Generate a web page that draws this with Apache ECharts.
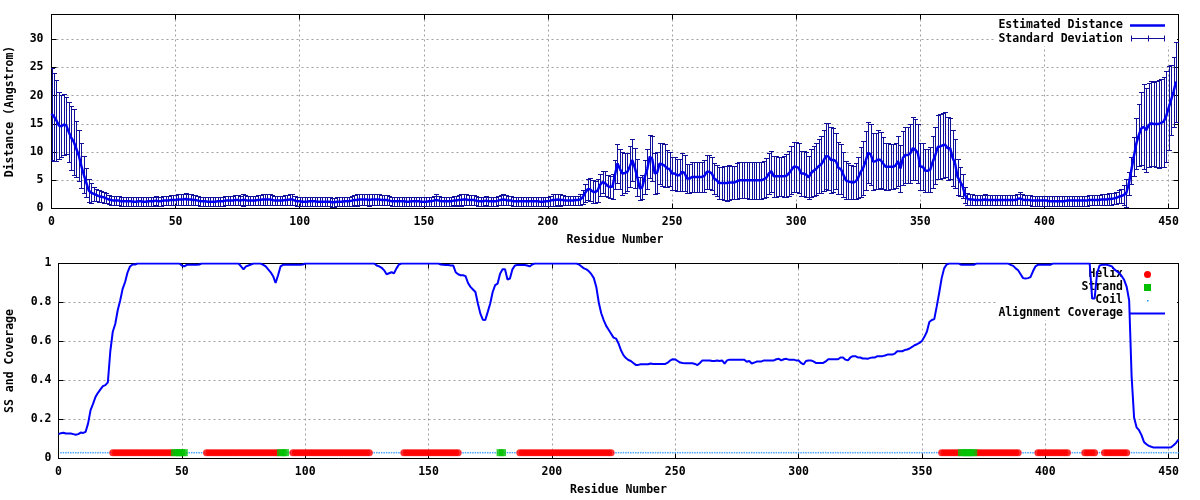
<!DOCTYPE html>
<html><head><meta charset="utf-8">
<script src="https://cdn.jsdelivr.net/npm/echarts@6/dist/echarts.min.js"></script>
<style>html,body{margin:0;padding:0;background:#fff}#c{width:1200px;height:500px}</style>
</head><body><div id="c"></div>
<script>
// ---------------- DATA ----------------
// Estimated distance (Angstrom) per residue, residues 0..453
const distanceMean = [
16.8,16.3,15.6,14.7,14.6,14.9,14.7,13.5,12.5,11.8,
10.6,9.4,7.6,6.0,4.6,3.2,2.8,2.6,2.4,2.2,
2.1,2.0,1.8,1.6,1.5,1.4,1.4,1.4,1.3,1.3,
1.3,1.3,1.3,1.2,1.2,1.3,1.3,1.2,1.2,1.3,
1.3,1.3,1.4,1.3,1.3,1.4,1.4,1.4,1.5,1.5,
1.5,1.6,1.6,1.6,1.7,1.6,1.6,1.5,1.5,1.4,
1.3,1.3,1.3,1.2,1.2,1.2,1.2,1.3,1.3,1.3,
1.4,1.4,1.4,1.4,1.5,1.5,1.4,1.5,1.5,1.4,
1.4,1.4,1.4,1.5,1.5,1.6,1.6,1.6,1.6,1.5,
1.4,1.4,1.4,1.4,1.5,1.5,1.6,1.6,1.4,1.3,
1.3,1.2,1.2,1.2,1.3,1.3,1.3,1.2,1.2,1.2,
1.2,1.2,1.2,1.1,1.1,1.2,1.2,1.2,1.3,1.3,
1.3,1.4,1.5,1.5,1.6,1.6,1.6,1.6,1.5,1.6,
1.6,1.6,1.6,1.5,1.5,1.5,1.4,1.3,1.3,1.3,
1.3,1.3,1.3,1.2,1.2,1.3,1.3,1.3,1.3,1.2,
1.2,1.2,1.3,1.3,1.4,1.5,1.4,1.3,1.3,1.3,
1.3,1.3,1.4,1.4,1.5,1.5,1.6,1.6,1.5,1.5,
1.5,1.4,1.3,1.3,1.3,1.4,1.3,1.3,1.3,1.3,
1.4,1.5,1.6,1.5,1.4,1.4,1.3,1.3,1.3,1.3,
1.3,1.3,1.3,1.3,1.3,1.3,1.3,1.2,1.2,1.3,
1.3,1.4,1.5,1.5,1.6,1.5,1.5,1.4,1.4,1.4,
1.4,1.5,1.5,1.6,2.0,2.8,3.4,3.4,3.0,2.9,
3.2,4.2,4.7,4.5,4.0,3.8,3.9,6.0,8.0,7.0,
6.2,6.3,6.5,7.5,8.6,7.2,5.5,3.5,3.8,5.6,
7.0,9.2,8.8,6.2,6.4,8.0,7.8,7.6,7.1,7.0,
6.2,6.2,5.9,5.9,6.5,6.3,5.3,5.3,5.6,5.6,
5.6,5.6,5.6,5.8,6.5,6.5,6.2,5.3,5.0,4.5,
4.5,4.5,4.5,4.6,4.6,4.6,4.8,5.0,5.0,5.0,
5.0,5.0,5.0,5.0,5.0,5.0,5.0,5.2,5.5,6.2,
6.6,5.7,5.7,5.7,5.7,5.7,5.8,6.2,6.8,7.4,
7.4,7.2,6.2,6.2,6.0,5.5,6.3,6.7,7.0,7.5,
7.8,8.5,9.3,9.2,8.6,8.6,8.4,7.2,7.0,6.0,
5.0,4.8,4.7,4.6,4.8,5.5,6.5,7.2,8.5,9.9,
9.6,8.3,8.4,8.7,8.6,8.0,7.4,7.4,7.4,7.4,
7.6,8.4,7.1,9.0,9.5,9.5,9.8,10.7,10.4,9.8,
7.4,7.4,6.7,6.7,6.9,8.3,9.4,10.9,11.0,11.2,
11.3,10.7,10.7,9.0,8.0,5.6,4.8,4.0,2.4,1.7,
1.6,1.6,1.5,1.5,1.5,1.5,1.6,1.5,1.5,1.5,
1.5,1.5,1.5,1.5,1.5,1.5,1.5,1.5,1.5,1.6,
1.8,1.6,1.5,1.5,1.5,1.4,1.4,1.4,1.4,1.4,
1.4,1.4,1.3,1.3,1.3,1.3,1.3,1.3,1.3,1.4,
1.4,1.4,1.4,1.4,1.4,1.4,1.4,1.4,1.5,1.5,
1.5,1.5,1.5,1.6,1.6,1.6,1.7,1.7,1.8,1.9,
2.1,2.2,2.4,2.8,4.4,6.8,9.2,11.5,13.0,14.2,
14.5,13.9,14.8,15.1,15.0,15.0,15.0,15.2,15.4,16.3,
17.8,19.2,20.7,22.5
];
// Standard deviation per residue, residues 0..453
const distanceStd = [
8.2,7.8,7.2,6.0,5.5,5.4,5.0,5.3,5.6,5.9,
5.0,4.5,4.0,3.3,2.6,2.0,1.8,1.3,1.1,1.0,
1.0,1.0,0.9,0.8,0.8,0.8,0.8,0.8,0.8,0.8,
0.8,0.8,0.8,0.8,0.8,0.8,0.8,0.8,0.8,0.8,
0.8,0.8,0.8,0.8,0.8,0.8,0.8,0.8,0.9,0.9,
0.9,1.0,1.0,1.0,1.0,1.0,1.0,0.9,0.9,0.8,
0.8,0.8,0.8,0.8,0.8,0.8,0.8,0.8,0.8,0.8,
0.8,0.8,0.8,0.8,0.9,0.9,0.8,1.0,0.9,0.8,
0.8,0.8,0.8,0.9,0.9,1.0,1.0,1.0,1.0,0.9,
0.8,0.8,0.8,0.8,0.9,0.9,1.0,1.0,0.8,0.8,
0.8,0.8,0.8,0.8,0.8,0.8,0.8,0.8,0.8,0.8,
0.8,0.8,0.8,0.8,0.8,0.8,0.8,0.8,0.8,0.8,
0.8,0.9,0.9,1.0,1.0,1.0,1.0,1.0,1.0,1.0,
1.0,1.0,1.0,0.9,0.9,0.9,0.8,0.8,0.8,0.8,
0.8,0.8,0.8,0.8,0.8,0.8,0.8,0.8,0.8,0.8,
0.8,0.8,0.8,0.8,0.9,1.0,0.9,0.8,0.8,0.8,
0.8,0.8,0.8,0.9,0.9,1.0,1.0,1.0,0.9,0.9,
0.9,0.8,0.8,0.8,0.8,0.8,0.8,0.8,0.8,0.8,
0.8,0.9,1.0,0.9,0.8,0.8,0.8,0.8,0.8,0.8,
0.8,0.8,0.8,0.8,0.8,0.8,0.8,0.8,0.8,0.8,
0.8,0.9,1.0,1.0,1.0,1.0,0.9,0.8,0.8,0.8,
0.8,0.8,0.8,0.9,1.2,1.6,1.9,2.0,2.0,2.0,
2.0,2.0,2.0,2.2,2.0,2.0,2.2,2.6,3.5,3.6,
3.8,3.6,3.4,3.6,3.8,3.6,3.2,2.0,2.2,3.0,
3.5,3.8,4.0,3.6,3.6,3.6,3.8,3.8,3.2,3.0,
3.0,3.0,2.8,2.8,3.4,3.2,2.6,2.6,2.6,2.6,
2.6,2.6,2.6,2.8,3.0,3.0,3.0,2.8,2.8,2.9,
2.9,3.0,3.1,3.1,3.0,3.0,3.2,3.2,3.2,3.2,
3.2,3.3,3.3,3.3,3.3,3.3,3.3,3.3,3.4,3.6,
3.6,3.6,3.6,3.4,3.4,3.6,3.8,4.0,4.2,4.4,
4.4,4.4,4.0,4.0,4.0,3.8,4.2,4.4,4.6,4.8,
5.0,5.4,5.8,6.0,5.8,5.6,5.0,4.6,4.4,4.0,
3.4,3.2,3.0,3.0,3.2,3.6,4.4,4.8,5.2,5.4,
5.4,5.0,5.0,5.2,5.0,4.6,4.2,4.2,4.0,4.0,
4.0,4.4,4.2,4.8,5.0,5.0,5.2,5.6,5.4,5.2,
4.2,4.2,3.8,3.8,4.0,4.6,5.0,5.6,5.8,5.8,
5.8,5.6,5.4,5.0,4.4,3.2,2.6,2.2,1.4,1.0,
0.9,0.9,0.9,0.9,0.9,0.9,0.9,0.9,0.9,0.9,
0.9,0.9,0.9,0.9,0.9,0.9,0.9,0.9,0.9,1.0,
1.1,1.0,0.9,0.9,0.9,0.9,0.9,0.9,0.9,0.9,
0.9,0.9,0.9,0.9,0.9,0.9,0.9,0.9,0.9,0.9,
0.9,0.9,0.9,0.9,0.9,0.9,0.9,0.9,0.9,0.9,
0.9,0.9,0.9,0.9,0.9,1.0,1.0,1.0,1.0,1.1,
1.2,1.3,1.8,2.5,2.0,2.4,3.5,4.5,5.5,6.5,
7.5,7.5,7.5,7.5,7.4,7.6,7.8,7.8,8.0,8.0,
7.5,6.2,6.2,7.1
];
// Alignment coverage per residue, residues 0..454
const coverage = [
0.125,0.13,0.132,0.128,0.128,0.128,0.125,0.122,0.125,0.133,
0.131,0.137,0.18,0.248,0.28,0.316,0.337,0.354,0.371,0.376,
0.39,0.55,0.65,0.69,0.76,0.81,0.87,0.905,0.955,0.985,
0.995,0.995,1,1,1,1,1,1,1,1,
1,1,1,1,1,1,1,1,1,1,
0.99,0.985,0.993,0.993,0.993,0.993,0.993,0.995,1,1,
1,1,1,1,1,1,1,1,1,1,
1,1,1,1,0.985,0.97,0.985,0.99,0.995,1,
1,1,1,0.993,0.985,0.97,0.955,0.935,0.9,0.94,
0.985,0.993,0.993,0.993,0.993,0.993,0.993,0.993,0.993,0.995,
1,1,1,1,1,1,1,1,1,1,
1,1,1,1,1,1,1,1,1,1,
1,1,1,1,1,1,1,1,1,0.99,
0.985,0.978,0.965,0.945,0.95,0.955,0.95,0.975,0.995,1,
1,1,1,1,1,1,1,1,1,1,
1,1,1,1,1,0.995,0.993,0.992,0.992,0.99,
0.99,0.955,0.945,0.94,0.94,0.935,0.9,0.88,0.867,0.854,
0.795,0.743,0.712,0.71,0.752,0.795,0.854,0.889,0.897,0.948,
0.97,0.97,0.918,0.923,0.97,0.99,0.992,0.992,0.992,0.992,
0.99,0.985,0.995,1,1,1,1,1,1,1,
1,1,1,1,1,1,1,1,1,1,
1,0.995,0.985,0.975,0.97,0.96,0.945,0.925,0.88,0.8,
0.745,0.71,0.68,0.66,0.64,0.62,0.615,0.59,0.555,0.53,
0.515,0.505,0.5,0.49,0.48,0.48,0.483,0.483,0.483,0.483,
0.487,0.485,0.485,0.485,0.485,0.485,0.485,0.492,0.503,0.509,
0.508,0.5,0.492,0.49,0.489,0.489,0.489,0.488,0.485,0.479,
0.49,0.503,0.503,0.503,0.503,0.5,0.5,0.503,0.5,0.503,
0.487,0.503,0.507,0.507,0.507,0.507,0.507,0.507,0.507,0.496,
0.5,0.487,0.492,0.497,0.498,0.498,0.503,0.503,0.503,0.503,
0.503,0.509,0.511,0.503,0.509,0.511,0.507,0.507,0.507,0.503,
0.503,0.49,0.482,0.5,0.503,0.503,0.498,0.49,0.49,0.49,
0.49,0.498,0.509,0.509,0.509,0.509,0.509,0.518,0.518,0.507,
0.503,0.518,0.525,0.525,0.518,0.518,0.513,0.513,0.511,0.516,
0.518,0.518,0.525,0.525,0.525,0.528,0.533,0.533,0.533,0.538,
0.55,0.55,0.55,0.556,0.559,0.564,0.572,0.581,0.586,0.593,
0.603,0.624,0.65,0.7,0.71,0.715,0.78,0.85,0.925,0.975,
0.995,1,1,1,1,1,0.993,0.993,0.993,0.993,
0.993,0.993,1,1,1,1,1,1,1,1,
1,1,1,1,1,1,0.993,0.988,0.975,0.965,
0.945,0.925,0.923,0.925,0.93,0.96,0.985,0.993,0.993,0.993,
0.993,0.993,0.993,1,1,1,1,1,1,1,
1,1,1,1,1,1,1,1,1,0.82,
0.82,0.95,0.99,0.993,0.993,0.993,0.99,0.985,0.97,0.96,
0.95,0.935,0.915,0.88,0.81,0.42,0.21,0.16,0.145,0.12,
0.085,0.073,0.065,0.06,0.056,0.056,0.056,0.056,0.056,0.056,
0.056,0.058,0.068,0.08,0.097
];
// Secondary structure (residue ranges, inclusive)
const helixRanges  = [[22,46],[60,89],[95,126],[140,162],[187,224],[358,365],[372,389],[397,409],[416,420],[424,433]];
const strandRanges = [[47,51],[90,92],[179,180],[366,371]];
const ssFirstResidue = 1, ssLastResidue = 454;
const ssTrackLevel = 0.03;
// Axis ticks
const xTickLabels = [0,50,100,150,200,250,300,350,400,450];
const yTopTickLabels = [0,5,10,15,20,25,30];
const yBottomTickLabels = [0,0.2,0.4,0.6,0.8,1];
const xMax = 454, yTopMax = 34.4;

// ---------------- BUILD ----------------
const inRanges = (r, ranges) => ranges.some(([a,b]) => r >= a && r <= b);
const helixPts = [], strandPts = [], coilPts = [];
for (let r = ssFirstResidue; r <= ssLastResidue; r++) {
  if (inRanges(r, strandRanges)) strandPts.push([r, ssTrackLevel]);
  else if (inRanges(r, helixRanges)) helixPts.push([r, ssTrackLevel]);
  else coilPts.push([r, ssTrackLevel]);
}
const meanPts = distanceMean.map((m, i) => [i, m]);
const errPts = distanceMean.map((m, i) => [i, m - distanceStd[i], m + distanceStd[i]]);
const covPts = coverage.map((v, i) => [i, v]);

const FONT = 'DejaVu Sans Mono';
const lblStyle = { fontFamily: FONT, fontWeight: 'bold', fontSize: 11.5, color: '#000' };
const ERR = '#10109a', LINE = '#0000f0', COV = '#0000ff';
const gridLine = { show: true, lineStyle: { color: '#a0a0a0', width: 1, type: [2, 3] } };
const tick = { show: true, inside: true, length: 5, lineStyle: { color: '#000', width: 1 } };
const axLine = { show: true, onZero: false, lineStyle: { color: '#000', width: 1 } };

function xAxisPair(grid) {
  return [
    { gridIndex: grid, type: 'value', min: 0, max: xMax, interval: 50,
      axisLine: axLine, axisTick: tick, splitLine: gridLine,
      axisLabel: Object.assign({ margin: 8, showMaxLabel: false,
        formatter: v => xTickLabels.includes(v) ? String(v) : '' }, lblStyle),
      name: 'Residue Number', nameLocation: 'middle', nameGap: 26, nameTextStyle: lblStyle },
    { gridIndex: grid, type: 'value', position: 'top', min: 0, max: xMax, interval: 50,
      axisLine: axLine, axisTick: tick, splitLine: { show: false }, axisLabel: { show: false } }
  ];
}

const option = {
  animation: false,
  backgroundColor: '#fff',
  grid: [
    { left: 51.5, top: 14.5, width: 1127, height: 194, containLabel: false, outerBoundsMode: 'none' },
    { left: 58.5, top: 263.5, width: 1120, height: 195, containLabel: false, outerBoundsMode: 'none' }
  ],
  xAxis: [...xAxisPair(0), ...xAxisPair(1)],
  yAxis: [
    { gridIndex: 0, type: 'value', min: 0, max: yTopMax, interval: 5,
      axisLine: axLine, axisTick: tick, splitLine: gridLine,
      axisLabel: Object.assign({ margin: 8, showMaxLabel: false,
        formatter: v => yTopTickLabels.includes(v) ? String(v) : '' }, lblStyle),
      name: 'Distance (Angstrom)', nameLocation: 'middle', nameGap: 35, nameRotate: 90, nameTextStyle: lblStyle },
    { gridIndex: 0, type: 'value', position: 'right', min: 0, max: yTopMax, interval: 5,
      axisLine: axLine, axisTick: tick, splitLine: { show: false }, axisLabel: { show: false } },
    { gridIndex: 1, type: 'value', min: 0, max: 1, interval: 0.2,
      axisLine: axLine, axisTick: tick, splitLine: gridLine,
      axisLabel: Object.assign({ margin: 7,
        formatter: v => { const k = yBottomTickLabels.find(t => Math.abs(t - v) < 1e-6); return k === undefined ? '' : String(k); } }, lblStyle),
      name: 'SS and Coverage', nameLocation: 'middle', nameGap: 42, nameRotate: 90, nameTextStyle: lblStyle },
    { gridIndex: 1, type: 'value', position: 'right', min: 0, max: 1, interval: 0.2,
      axisLine: axLine, axisTick: tick, splitLine: { show: false }, axisLabel: { show: false } }
  ],
  series: [
    { name: 'Standard Deviation', type: 'custom', xAxisIndex: 0, yAxisIndex: 0, z: 2, clip: true,
      encode: { x: 0, y: [1, 2] }, data: errPts,
      renderItem: function (params, api) {
        const x = api.value(0);
        const lo = api.coord([x, api.value(1)]);
        const hi = api.coord([x, api.value(2)]);
        const px = Math.round(lo[0]) + 0.5;
        const ly = Math.round(lo[1]) + 0.5, hy = Math.round(hi[1]) + 0.5;
        const w = 2.5;
        const st = () => ({ stroke: ERR, lineWidth: 1, fill: null });
        return { type: 'group', children: [
          { type: 'line', shape: { x1: px, y1: ly, x2: px, y2: hy }, style: st() },
          { type: 'line', shape: { x1: px - w, y1: ly, x2: px + w, y2: ly }, style: st() },
          { type: 'line', shape: { x1: px - w, y1: hy, x2: px + w, y2: hy }, style: st() }
        ] };
      }
    },
    { name: 'Estimated Distance', type: 'line', xAxisIndex: 0, yAxisIndex: 0, z: 3,
      data: meanPts, symbol: 'none', lineStyle: { color: LINE, width: 2.5 }, itemStyle: { color: LINE } },
    { name: 'Coil', type: 'scatter', xAxisIndex: 2, yAxisIndex: 2, z: 2,
      data: coilPts, symbol: 'rect', symbolSize: 1.5, itemStyle: { color: '#1e90ff' } },
    { name: 'Helix', type: 'scatter', xAxisIndex: 2, yAxisIndex: 2, z: 2,
      data: helixPts, symbol: 'circle', symbolSize: 7, itemStyle: { color: '#ff0000' } },
    { name: 'Strand', type: 'scatter', xAxisIndex: 2, yAxisIndex: 2, z: 3,
      data: strandPts, symbol: 'rect', symbolSize: 7, itemStyle: { color: '#00c000' } },
    { name: 'Alignment Coverage', type: 'line', xAxisIndex: 2, yAxisIndex: 2, z: 4,
      data: covPts, symbol: 'none', lineStyle: { color: COV, width: 2 }, itemStyle: { color: COV } }
  ],
  graphic: []
};

// Legends (gnuplot style key: right-aligned text, sample on the right)
function legText(txt, x, y) {
  return { type: 'text', x: x, y: y, z: 1, silent: true,
    style: { text: txt, fill: '#000', fontFamily: FONT, fontWeight: 'bold', fontSize: 11.5,
      align: 'right', verticalAlign: 'middle', textAlign: 'right', textVerticalAlign: 'middle' } };
}
const G = option.graphic;
// top key
G.push({ type: 'rect', z: 1, silent: true, shape: { x: 994, y: 15, width: 183, height: 31 }, style: { fill: '#fff' } });
G.push(legText('Estimated Distance', 1123, 25.5));
G.push({ type: 'line', z: 1, silent: true, shape: { x1: 1130, y1: 25.5, x2: 1165, y2: 25.5 }, style: { stroke: LINE, lineWidth: 2.5 } });
G.push(legText('Standard Deviation', 1123, 39));
G.push({ type: 'line', z: 1, silent: true, shape: { x1: 1131.5, y1: 38.5, x2: 1164.5, y2: 38.5 }, style: { stroke: ERR, lineWidth: 1 } });
[1131.5, 1148.5, 1164.5].forEach(x => G.push({ type: 'line', z: 1, silent: true,
  shape: { x1: x, y1: 35.5, x2: x, y2: 41.5 }, style: { stroke: ERR, lineWidth: 1 } }));
// bottom key
G.push({ type: 'rect', z: 1, silent: true, shape: { x: 996, y: 264, width: 181, height: 56 }, style: { fill: '#fff' } });
G.push(legText('Helix', 1123, 274.5));
G.push({ type: 'circle', z: 1, silent: true, shape: { cx: 1147.5, cy: 274.5, r: 3.5 }, style: { fill: '#ff0000' } });
G.push(legText('Strand', 1123, 287.5));
G.push({ type: 'rect', z: 1, silent: true, shape: { x: 1144, y: 284, width: 7, height: 7 }, style: { fill: '#00c000' } });
G.push(legText('Coil', 1123, 300.5));
G.push({ type: 'rect', z: 1, silent: true, shape: { x: 1147, y: 300, width: 1.5, height: 1.5 }, style: { fill: '#1e90ff' } });
G.push(legText('Alignment Coverage', 1123, 313.5));
G.push({ type: 'line', z: 1, silent: true, shape: { x1: 1130, y1: 313.5, x2: 1165, y2: 313.5 }, style: { stroke: COV, lineWidth: 2 } });

const chart = echarts.init(document.getElementById('c'), null, { renderer: 'canvas' });
chart.setOption(option);
</script>
</body></html>
